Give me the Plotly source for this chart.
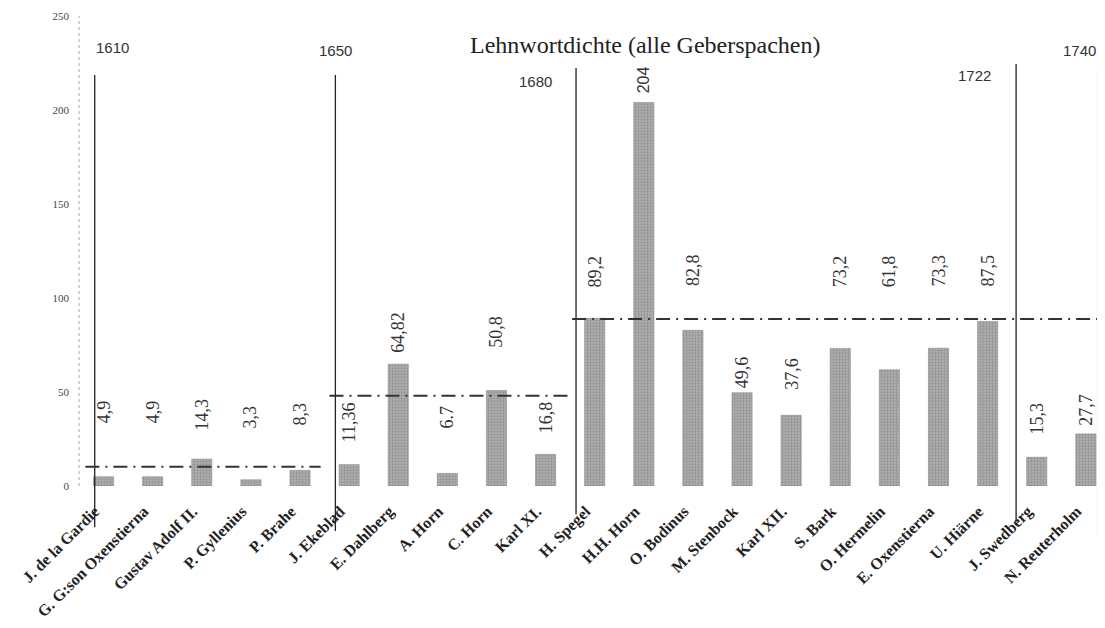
import plotly.graph_objects as go

# ---- data ----
names = ["J. de la Gardie", "G. G:son Oxenstierna", "Gustav Adolf II.", "P. Gyllenius",
         "P. Brahe", "J. Ekeblad", "E. Dahlberg", "A. Horn", "C. Horn", "Karl XI.",
         "H. Spegel", "H.H. Horn", "O. Bodinus", "M. Stenbock", "Karl XII.", "S. Bark",
         "O. Hermelin", "E. Oxenstierna", "U. Hiärne", "J. Swedberg", "N. Reuterholm"]
values = [4.9, 4.9, 14.3, 3.3, 8.3, 11.36, 64.82, 6.7, 50.8, 16.8,
          89.2, 204, 82.8, 49.6, 37.6, 73.2, 61.8, 73.3, 87.5, 15.3, 27.7]
value_text = ["4,9", "4,9", "14,3", "3,3", "8,3", "11,36", "64,82", "6.7", "50,8", "16,8",
              "89,2", "204", "82,8", "49,6", "37,6", "73,2", "61,8", "73,3", "87,5", "15,3", "27,7"]
# where each rotated value label starts (data units)
label_y = [32.4, 32.4, 28.4, 29.8, 30.9, 22.3, 69.7, 29.4, 72.7, 26.8,
           104.3, 208, 105.3, 51, 50.2, 104.8, 104.8, 104.8, 104.8, 26.2, 30.9]

# period separators
years = ["1610", "1650", "1680", "1722", "1740"]
year_line_x = [-0.18, 4.72, 9.62, 18.58, 20.24]
year_line_top = [218.6, 218.6, 222.3, 224.5, 222.9]
year_line_bottom = [-22, -24, -15, -19, -27]
year_label_x = [0.18, 4.72, 8.79, 17.74, 19.88]
year_label_y = [233.5, 231.9, 214.9, 218.1, 231.4]

# group reference (dash-dot) lines
group_level = [10.3, 48.0, 88.8]
group_x0 = [-0.37, 4.6, 9.54]
group_x1 = [4.42, 9.46, 20.39]

y_ticks = [0, 50, 100, 150, 200, 250]
title_text = "Lehnwortdichte (alle Geberspachen)"
YMAX = 250

idx = list(range(len(names)))

fig = go.Figure()
fig.add_trace(go.Bar(
    x=idx, y=values, width=0.41,
    marker=dict(color="#a5a5a5", line=dict(color="#8a8a8a", width=0.6),
                pattern=dict(shape=".", fgcolor="#767676", bgcolor="#b0b0b0",
                             size=3, solidity=0.45)),
    hoverinfo="x+y", showlegend=False))

ann = []
for i, (t, ly) in enumerate(zip(value_text, label_y)):
    ann.append(dict(x=i, y=ly, xref="x", yref="y", text=t, textangle=-90,
                    showarrow=False, xanchor="center", yanchor="bottom",
                    font=dict(family="Liberation Serif" if t != "204" else "Liberation Sans",
                              size=18 if t != "204" else 16, color="#333")))
for t, xx, yy in zip(years, year_label_x, year_label_y):
    ann.append(dict(x=xx, y=yy, xref="x", yref="y", text=t, showarrow=False,
                    xanchor="center", yanchor="middle",
                    font=dict(family="Liberation Sans", size=15, color="#333")))
ann.append(dict(x=0.552, y=0.938, xref="paper", yref="paper", text=title_text,
                showarrow=False, xanchor="center", yanchor="middle",
                font=dict(family="Liberation Serif", size=24, color="#222")))

shapes = []
for xx, yt, yb in zip(year_line_x, year_line_top, year_line_bottom):
    shapes.append(dict(type="line", xref="x", yref="paper", x0=xx, x1=xx,
                       y0=yb / YMAX, y1=yt / YMAX, line=dict(color="#222", width=1.3)))
for lv, a, b in zip(group_level, group_x0, group_x1):
    shapes.append(dict(type="line", xref="x", yref="y", x0=a, x1=b, y0=lv, y1=lv,
                       line=dict(color="#333", width=2, dash="14px,6px,2px,6px")))
# faint dotted value axis
shapes.append(dict(type="line", xref="paper", yref="paper", x0=0, x1=0, y0=0, y1=1,
                   line=dict(color="#aaa", width=1, dash="dot")))

# the page places the plot 8px in from the top-left corner
fig.update_layout(
    width=1097, height=620,
    margin=dict(l=71, r=0, t=8, b=142, autoexpand=False),
    paper_bgcolor="white", plot_bgcolor="white",
    annotations=ann, shapes=shapes,
    xaxis=dict(tickmode="array", tickvals=idx, ticktext=names, tickangle=-45,
               range=[-0.5, 20.39], showgrid=False, zeroline=False, showline=False,
               automargin=False,
               ticks="", ticklabelstandoff=12, ticklabelshift=-9,
               tickfont=dict(family="Liberation Serif", size=16, color="#222", weight="bold")),
    yaxis=dict(range=[0, YMAX], tickvals=y_ticks, showgrid=False, zeroline=False,
               showline=False, ticks="", ticklabelstandoff=9, automargin=False,
               tickfont=dict(family="Liberation Serif", size=11, color="#444")),
    bargap=0.5,
)

fig.write_html("out.html")
